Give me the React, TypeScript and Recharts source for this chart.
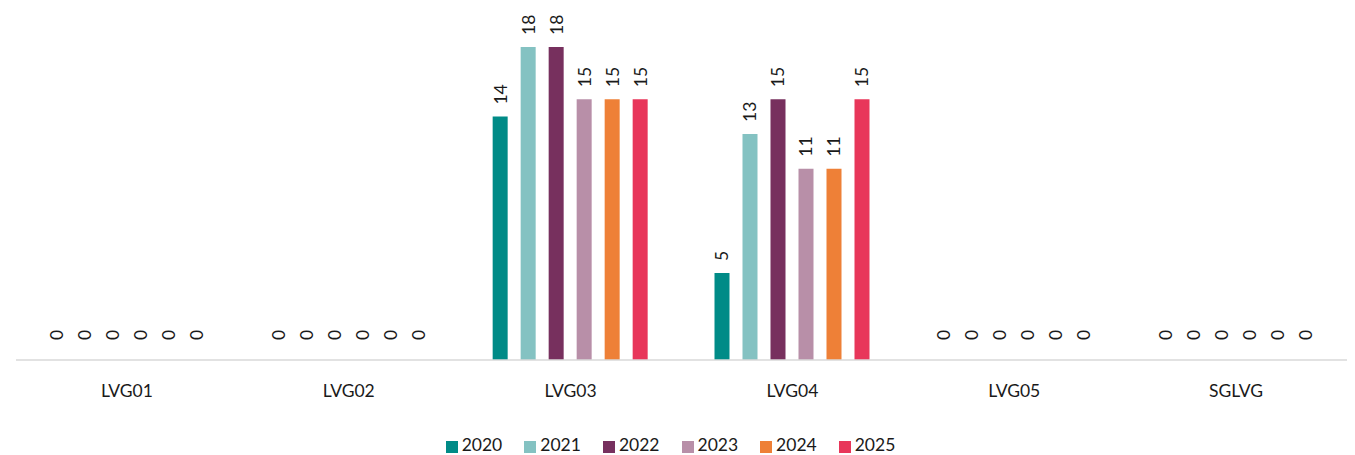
import React from "react";
import { BarChart, Bar, XAxis, YAxis, Legend } from "recharts";

const categories = ["LVG01", "LVG02", "LVG03", "LVG04", "LVG05", "SGLVG"];
const years = ["2020", "2021", "2022", "2023", "2024", "2025"];

const v2020 = [0, 0, 14, 5, 0, 0];
const v2021 = [0, 0, 18, 13, 0, 0];
const v2022 = [0, 0, 18, 15, 0, 0];
const v2023 = [0, 0, 15, 11, 0, 0];
const v2024 = [0, 0, 15, 11, 0, 0];
const v2025 = [0, 0, 15, 15, 0, 0];

const seriesValues = [v2020, v2021, v2022, v2023, v2024, v2025];
const COLORS = ["#008b87", "#84c2c2", "#77305e", "#b88fa8", "#ee8037", "#e8365a"];

const data = categories.map((name, i) => {
  const row: Record<string, string | number> = { name };
  years.forEach((y, s) => {
    row[y] = seriesValues[s][i];
  });
  return row;
});

const FONT = "Lato, 'Noto Sans', sans-serif";

// rotated value label sitting above the bar
const VerticalLabel = (props: any) => {
  const { x, y, width, value } = props;
  if (x == null || y == null) return null;
  const cx = Number(x) + Number(width) / 2;
  const ty = Number(y) - (Number(value) === 0 ? 20 : 12);
  return (
    <text
      x={cx}
      y={ty}
      transform={`rotate(-90 ${cx} ${ty})`}
      textAnchor="start"
      dominantBaseline="central"
      fontSize={17.5}
      fontFamily={FONT}
      fill="#1a1a1a"
    >
      {value}
    </text>
  );
};

export default function App() {
  return (
    <div style={{ fontFamily: FONT }}>
      <BarChart
        width={1339}
        height={447}
        data={data}
        barSize={15}
        barGap={13}
        margin={{ top: 39, right: 0, left: 8, bottom: 0 }}
      >
        <XAxis
          dataKey="name"
          height={74}
          axisLine={{ stroke: "#d9d9d9", strokeWidth: 1.5 }}
          tickLine={false}
          tickSize={0}
          tickMargin={25}
          tick={{ fill: "#1a1a1a", fontSize: 17.5, fontFamily: FONT }}
        />
        <YAxis hide domain={[0, 18]} />
        <Legend
          verticalAlign="bottom"
          align="center"
          iconType="square"
          iconSize={12}
          wrapperStyle={{ fontSize: 17.5, fontFamily: FONT }}
          formatter={(value: string) => (
            <span style={{ color: "#1a1a1a", marginRight: 12 }}>{value}</span>
          )}
        />
        {years.map((y, s) => (
          <Bar
            key={y}
            dataKey={y}
            fill={COLORS[s]}
            minPointSize={0.01}
            isAnimationActive={false}
            label={<VerticalLabel />}
          />
        ))}
      </BarChart>
    </div>
  );
}
